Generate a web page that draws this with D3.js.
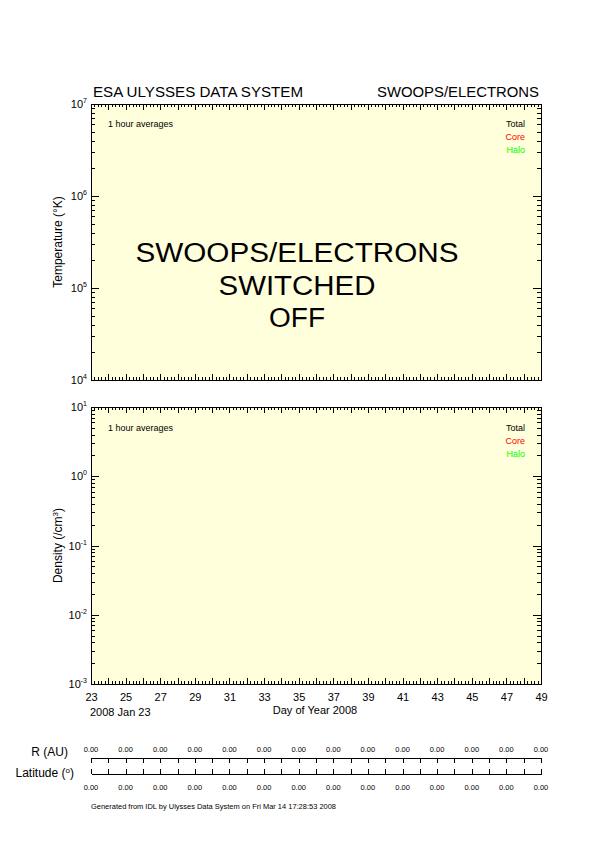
<!DOCTYPE html>
<html>
<head>
<meta charset="utf-8">
<script src="https://cdn.jsdelivr.net/npm/d3@7"></script>
<style>
  body { margin: 0; background: #fff; }
  svg { display: block; font-family: "Liberation Sans", Arial, Helvetica, sans-serif; }
</style>
</head>
<body>
<svg id="chart" width="595" height="842"></svg>
<script>
// chart content
const headerLeft = "ESA ULYSSES DATA SYSTEM";
const headerRight = "SWOOPS/ELECTRONS";
const offMessage = ["SWOOPS/ELECTRONS", "SWITCHED", "OFF"];
const offWidths = [323, 157, 56];
const dayRange = [23, 49];
const dayLabels = [23, 25, 27, 29, 31, 33, 35, 37, 39, 41, 43, 45, 47, 49];
const startDate = "2008 Jan 23";
const xTitle = "Day of Year 2008";
const tempDomain = [1e4, 1e7];
const densDomain = [1e-3, 1e1];
const legendNames = ["Total", "Core", "Halo"];
const legendColors = ["#000000", "#ff0000", "#00ff00"];
const averagingNote = "1 hour averages";
const rValues = ["0.00", "0.00", "0.00", "0.00", "0.00", "0.00", "0.00", "0.00", "0.00", "0.00", "0.00", "0.00", "0.00", "0.00"];
const latValues = ["0.00", "0.00", "0.00", "0.00", "0.00", "0.00", "0.00", "0.00", "0.00", "0.00", "0.00", "0.00", "0.00", "0.00"];
const footer = "Generated from IDL by Ulysses Data System on Fri Mar 14 17:28:53 2008";

const svg = d3.select("#chart");
const left = 91, right = 541;
const fill = "#ffffdc";

const x = d3.scaleLinear().domain(dayRange).range([left, right]);
const dayTicks = d3.range(dayRange[0], dayRange[1] + 1);
const subTicks = d3.range(dayRange[0] * 5, dayRange[1] * 5 + 1).map(d => d / 5);

svg.append("text")
    .attr("x", 93).attr("y", 97)
    .attr("font-size", 14)
    .attr("textLength", 210)
    .attr("lengthAdjust", "spacingAndGlyphs")
    .text(headerLeft);

svg.append("text")
    .attr("x", 377).attr("y", 97)
    .attr("font-size", 14)
    .attr("textLength", 162)
    .attr("lengthAdjust", "spacingAndGlyphs")
    .text(headerRight);

function stripDomain(g) {
    g.select(".domain").remove();
    g.selectAll("line").attr("shape-rendering", "crispEdges");
}

function panel(top, bottom, domain, title, notes) {
    const y = d3.scaleLog().domain(domain).range([bottom, top]);
    const g = svg.append("g");

    g.append("rect")
        .attr("x", left).attr("y", top)
        .attr("width", right - left).attr("height", bottom - top)
        .attr("fill", fill);

    // x ticks, inside, top and bottom
    g.append("g").attr("transform", `translate(0,${bottom})`)
        .call(d3.axisBottom(x).tickValues(subTicks).tickSize(-3).tickFormat(""))
        .call(stripDomain);
    g.append("g").attr("transform", `translate(0,${bottom})`)
        .call(d3.axisBottom(x).tickValues(dayTicks).tickSize(-6).tickFormat(""))
        .call(stripDomain);
    g.append("g").attr("transform", `translate(0,${top})`)
        .call(d3.axisTop(x).tickValues(subTicks).tickSize(-3).tickFormat(""))
        .call(stripDomain);
    g.append("g").attr("transform", `translate(0,${top})`)
        .call(d3.axisTop(x).tickValues(dayTicks).tickSize(-6).tickFormat(""))
        .call(stripDomain);

    // log y ticks
    const all = y.ticks();
    const major = all.filter(d => Math.abs(Math.log10(d) - Math.round(Math.log10(d))) < 1e-9);
    const minor = all.filter(d => !major.includes(d));

    g.append("g").attr("transform", `translate(${left},0)`)
        .call(d3.axisLeft(y).tickValues(minor).tickSize(-4).tickFormat(""))
        .call(stripDomain);
    g.append("g").attr("transform", `translate(${left},0)`)
        .call(d3.axisLeft(y).tickValues(major).tickSize(-8).tickFormat(""))
        .call(stripDomain);
    g.append("g").attr("transform", `translate(${right},0)`)
        .call(d3.axisRight(y).tickValues(minor).tickSize(-4).tickFormat(""))
        .call(stripDomain);
    g.append("g").attr("transform", `translate(${right},0)`)
        .call(d3.axisRight(y).tickValues(major).tickSize(-8).tickFormat(""))
        .call(stripDomain);

    g.append("rect")
        .attr("x", left + 0.5).attr("y", top + 0.5)
        .attr("width", right - left).attr("height", bottom - top)
        .attr("fill", "none").attr("stroke", "#000").attr("stroke-width", 1);

    // decade labels
    const lbl = g.selectAll("text.ylbl").data(major).join("text")
        .attr("class", "ylbl")
        .attr("x", 87)
        .attr("y", d => y(d) + 4)
        .attr("text-anchor", "end")
        .attr("font-size", 11);
    lbl.append("tspan").text("10");
    lbl.append("tspan")
        .attr("font-size", 7)
        .attr("dy", -5)
        .text(d => String(Math.round(Math.log10(d))));

    g.append("text")
        .attr("transform", `translate(62,${(top + bottom) / 2}) rotate(-90)`)
        .attr("text-anchor", "middle")
        .attr("font-size", 12)
        .html(title);

    g.append("text")
        .attr("x", 108).attr("y", top + notes)
        .attr("font-size", 9)
        .text(averagingNote);

    g.selectAll("text.leg").data(legendNames).join("text")
        .attr("class", "leg")
        .attr("x", 525)
        .attr("y", (d, i) => top + notes + i * 13)
        .attr("text-anchor", "end")
        .attr("font-size", 9)
        .attr("fill", (d, i) => legendColors[i])
        .text(d => d);

    return y;
}

const yT = panel(104, 380, tempDomain, "Temperature (&#176;K)", 23);
const yD = panel(407, 684, densDomain, "Density (/cm<tspan font-size='8' dy='-4'>3</tspan><tspan dy='4'>)</tspan>", 24);

// switched off message over the temperature panel
svg.selectAll("text.off").data(offMessage).join("text")
    .attr("class", "off")
    .attr("x", 297)
    .attr("y", (d, i) => 262 + i * 32.5)
    .attr("text-anchor", "middle")
    .attr("font-size", 27)
    .attr("textLength", (d, i) => offWidths[i])
    .attr("lengthAdjust", "spacingAndGlyphs")
    .text(d => d);

// x axis labels below the density panel
svg.append("g").attr("transform", "translate(0,684)")
    .call(d3.axisBottom(x).tickValues(dayLabels).tickSize(0).tickPadding(9))
    .call(g => g.select(".domain").remove())
    .call(g => g.selectAll("text")
        .attr("font-family", "Liberation Sans, Arial, sans-serif")
        .attr("font-size", 11)
        .attr("fill", "#000"));

svg.append("text")
    .attr("x", 90).attr("y", 716)
    .attr("font-size", 11)
    .text(startDate);

svg.append("text")
    .attr("x", 315).attr("y", 714)
    .attr("text-anchor", "middle")
    .attr("font-size", 11)
    .text(xTitle);

// R and latitude strip
svg.append("text").attr("x", 68).attr("y", 756)
    .attr("text-anchor", "end").attr("font-size", 12).text("R (AU)");
svg.append("text").attr("x", 74).attr("y", 777)
    .attr("text-anchor", "end").attr("font-size", 12)
    .html("Latitude (<tspan font-size='8' dy='-4'>o</tspan><tspan dy='4'>)</tspan>");

svg.append("g").attr("transform", "translate(0,758)")
    .call(d3.axisBottom(x).tickValues(dayTicks).tickSize(5).tickSizeOuter(0).tickFormat(""))
    .call(g => g.selectAll("line,path").attr("shape-rendering", "crispEdges"));
svg.append("g").attr("transform", "translate(0,774)")
    .call(d3.axisTop(x).tickValues(dayTicks).tickSize(5).tickSizeOuter(0).tickFormat(""))
    .call(g => g.selectAll("line,path").attr("shape-rendering", "crispEdges"));

svg.selectAll("text.rv").data(rValues).join("text")
    .attr("class", "rv")
    .attr("x", (d, i) => x(dayLabels[i]))
    .attr("y", 752)
    .attr("text-anchor", "middle")
    .attr("font-size", 7.5)
    .text(d => d);

svg.selectAll("text.lv").data(latValues).join("text")
    .attr("class", "lv")
    .attr("x", (d, i) => x(dayLabels[i]))
    .attr("y", 790)
    .attr("text-anchor", "middle")
    .attr("font-size", 7.5)
    .text(d => d);

svg.append("text")
    .attr("x", 91).attr("y", 809)
    .attr("font-size", 6.5)
    .attr("textLength", 245)
    .attr("lengthAdjust", "spacingAndGlyphs")
    .text(footer);
</script>
</body>
</html>
